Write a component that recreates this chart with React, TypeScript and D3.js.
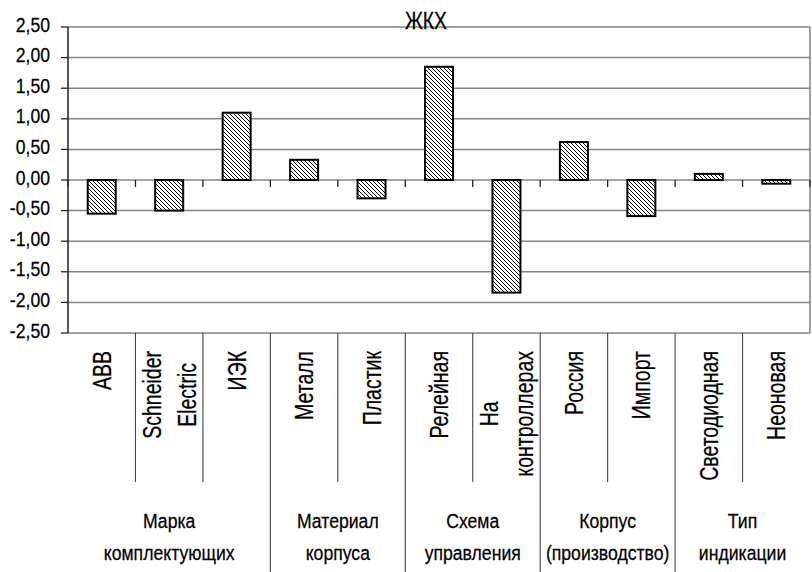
import React, { useEffect, useRef } from "react";
import * as d3 from "d3";

const title = "ЖКХ";
const categories: string[][] = [
  ["АВВ"],
  ["Schneider", "Electric"],
  ["ИЭК"],
  ["Металл"],
  ["Пластик"],
  ["Релейная"],
  ["На", "контроллерах"],
  ["Россия"],
  ["Импорт"],
  ["Светодиодная"],
  ["Неоновая"],
];
const values: number[] = [-0.55, -0.5, 1.1, 0.33, -0.3, 1.85, -1.84, 0.62, -0.59, 0.1, -0.06];
const groups: { lines: string[]; start: number; end: number }[] = [
  { lines: ["Марка", "комплектующих"], start: 0, end: 3 },
  { lines: ["Материал", "корпуса"], start: 3, end: 5 },
  { lines: ["Схема", "управления"], start: 5, end: 7 },
  { lines: ["Корпус", "(производство)"], start: 7, end: 9 },
  { lines: ["Тип", "индикации"], start: 9, end: 11 },
];
const yTicks: number[] = [2.5, 2, 1.5, 1, 0.5, 0, -0.5, -1, -1.5, -2, -2.5];

const W = 812;
const H = 572;
const FONT = "Arial, 'Liberation Sans', Helvetica, sans-serif";
const SX = 0.84;
const SX_ROT = 0.78;

export default function App() {
  const ref = useRef<SVGSVGElement | null>(null);

  useEffect(() => {
    const svg = d3.select(ref.current!);
    svg.selectAll("*").remove();

    const left = 68, right = 810, top = 27, bottom = 333;
    const ids = categories.map((_, i) => String(i));
    const x = d3.scaleBand<string>().domain(ids).range([left, right]).padding(0);
    const y = d3.scaleLinear().domain([-2.5, 2.5]).range([bottom, top]);
    const bw = x.bandwidth();
    const barW = bw * 0.415;
    const boundary = (k: number) => left + k * bw;

    const locale = d3.formatLocale({ decimal: ",", thousands: " ", grouping: [3], currency: ["", ""], minus: "-" });
    const fmt = locale.format(".2f");

    const defs = svg.append("defs");
    const pat = defs
      .append("pattern")
      .attr("id", "hatch")
      .attr("patternUnits", "userSpaceOnUse")
      .attr("width", 4)
      .attr("height", 4);
    pat.append("rect").attr("width", 4).attr("height", 4).attr("fill", "#fff");
    pat
      .append("path")
      .attr("d", "M0,0 L4,4 M-1,3 L1,5 M3,-1 L5,1")
      .attr("stroke", "#000")
      .attr("stroke-width", 1);

    // gridlines
    svg
      .append("g")
      .selectAll("line")
      .data(yTicks)
      .join("line")
      .attr("x1", left)
      .attr("x2", right)
      .attr("y1", (d) => y(d))
      .attr("y2", (d) => y(d))
      .attr("stroke", "#858585")
      .attr("stroke-width", 1.5);

    // right border
    svg
      .append("line")
      .attr("x1", right)
      .attr("x2", right)
      .attr("y1", top)
      .attr("y2", bottom)
      .attr("stroke", "#858585")
      .attr("stroke-width", 1.5);

    // y axis
    svg
      .append("line")
      .attr("x1", left)
      .attr("x2", left)
      .attr("y1", top)
      .attr("y2", bottom)
      .attr("stroke", "#222")
      .attr("stroke-width", 1.5);
    svg
      .append("g")
      .selectAll("line")
      .data(yTicks)
      .join("line")
      .attr("x1", 61)
      .attr("x2", left)
      .attr("y1", (d) => y(d))
      .attr("y2", (d) => y(d))
      .attr("stroke", "#222")
      .attr("stroke-width", 1.3);
    svg
      .append("g")
      .selectAll("g")
      .data(yTicks)
      .join("g")
      .attr("transform", (d) => `translate(50,${y(d) + 4.5}) scale(${SX},1)`)
      .append("text")
      .attr("text-anchor", "end")
      .attr("font-family", FONT)
      .attr("font-size", 21)
      .attr("fill", "#000")
      .attr("stroke", "#000")
      .attr("stroke-width", 0.25)
      .text((d) => fmt(d));

    // bars
    svg
      .append("g")
      .selectAll("rect")
      .data(values)
      .join("rect")
      .attr("x", (_, i) => x(String(i))! + (bw - barW) / 2)
      .attr("width", barW)
      .attr("y", (d) => y(Math.max(0, d)))
      .attr("height", (d) => Math.abs(y(d) - y(0)))
      .attr("fill", "url(#hatch)")
      .attr("stroke", "#000")
      .attr("stroke-width", 2);

    // zero-line ticks
    const ks = d3.range(0, categories.length + 1);
    svg
      .append("g")
      .selectAll("line")
      .data(ks)
      .join("line")
      .attr("x1", (k) => boundary(k))
      .attr("x2", (k) => boundary(k))
      .attr("y1", y(0))
      .attr("y2", y(0) + 7)
      .attr("stroke", "#222")
      .attr("stroke-width", 1.3);

    // category separators below plot
    const groupBounds = new Set(groups.slice(1).map((g) => g.start));
    svg
      .append("g")
      .selectAll("line")
      .data(d3.range(1, categories.length))
      .join("line")
      .attr("x1", (k) => boundary(k))
      .attr("x2", (k) => boundary(k))
      .attr("y1", bottom)
      .attr("y2", (k) => (groupBounds.has(k) ? H : 482))
      .attr("stroke", "#444")
      .attr("stroke-width", 1.1);

    // category labels (rotated)
    const labelTop = 351;
    categories.forEach((lines, i) => {
      const cx = x(String(i))! + bw / 2;
      const g = svg.append("g");
      const texts = lines.map((ln, j) =>
        g
          .append("text")
          .attr("text-anchor", "middle")
          .attr("font-family", FONT)
          .attr("font-size", 25)
          .attr("fill", "#000")
          .attr("stroke", "#000")
          .attr("stroke-width", 0.25)
          .attr("x", 0)
          .attr("y", 9 + (j - (lines.length - 1) / 2) * 35)
          .text(ln)
      );
      const maxLen = d3.max(texts, (t) => (t.node() as SVGTextElement).getComputedTextLength()) || 0;
      const cy = labelTop + (maxLen * SX_ROT) / 2;
      g.attr("transform", `translate(${cx},${cy}) rotate(-90) scale(${SX_ROT},1)`);
    });

    // group labels
    groups.forEach((grp) => {
      const cx = (boundary(grp.start) + boundary(grp.end)) / 2;
      grp.lines.forEach((ln, j) => {
        svg
          .append("g")
          .attr("transform", `translate(${cx},${528 + j * 32}) scale(${SX},1)`)
          .append("text")
          .attr("text-anchor", "middle")
          .attr("font-family", FONT)
          .attr("font-size", 21)
          .attr("fill", "#000")
          .attr("stroke", "#000")
          .attr("stroke-width", 0.25)
          .text(ln);
      });
    });

    // title
    svg
      .append("g")
      .attr("transform", `translate(426,29) scale(${SX},1)`)
      .append("text")
      .attr("text-anchor", "middle")
      .attr("font-family", FONT)
      .attr("font-size", 23)
      .attr("fill", "#000")
      .attr("stroke", "#000")
      .attr("stroke-width", 0.25)
      .text(title);
  }, []);

  return (
    <svg
      ref={ref}
      width={W}
      height={H}
      style={{ position: "absolute", left: 0, top: 0, background: "#fff", display: "block" }}
    />
  );
}
